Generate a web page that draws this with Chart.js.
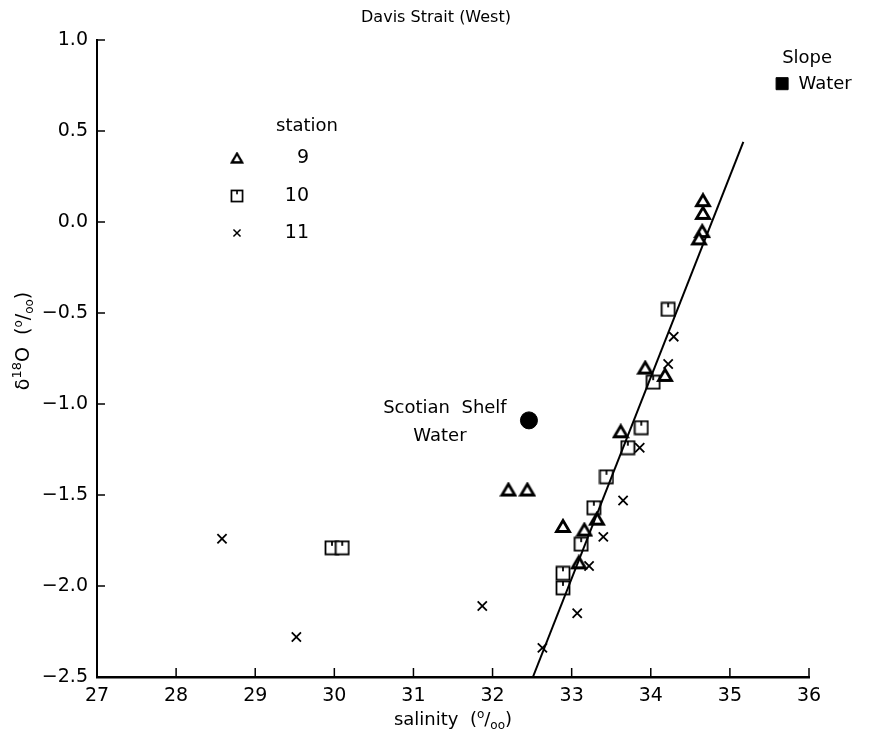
<!DOCTYPE html>
<html>
<head>
<meta charset="utf-8">
<script src="https://cdn.jsdelivr.net/npm/chart.js@4"></script>
<style>
  html, body { margin: 0; padding: 0; background: #fff; }
  canvas { display: block; }
</style>
</head>
<body>
<canvas id="c" width="872" height="740"></canvas>
<script>
// ---- data ----
const station9Salinity = [34.66, 34.66, 34.65, 34.61, 33.93, 34.18, 33.62, 32.20, 32.44, 33.32, 32.89, 33.16, 33.09];
const station9Delta    = [0.12, 0.05, -0.05, -0.09, -0.80, -0.84, -1.15, -1.47, -1.47, -1.63, -1.67, -1.69, -1.87];

const station10Salinity = [34.22, 34.03, 33.88, 33.71, 33.44, 33.28, 33.12, 32.89, 32.89, 29.97, 30.10];
const station10Delta    = [-0.48, -0.88, -1.13, -1.24, -1.40, -1.57, -1.77, -1.93, -2.01, -1.79, -1.79];

const station11Salinity = [34.29, 34.22, 33.86, 33.65, 33.40, 33.22, 33.07, 32.63, 31.87, 28.58, 29.52];
const station11Delta    = [-0.63, -0.78, -1.24, -1.53, -1.73, -1.89, -2.15, -2.34, -2.11, -1.74, -2.28];

const scotianShelf = [32.46, -1.09];
const slopeWater   = [35.66, 0.76];

const fitLineSalinity = [32.51, 35.17];
const fitLineDelta    = [-2.50, 0.44];

const xTickValues = [27, 28, 29, 30, 31, 32, 33, 34, 35, 36];
const yTickValues = [-2.5, -2.0, -1.5, -1.0, -0.5, 0.0, 0.5, 1.0];
const legendLabels = ['9', '10', '11'];
const chartTitle = 'Davis Strait (West)';

const zip = (xs, ys) => xs.map((x, i) => ({ x: x, y: ys[i] }));

// ---- marker images ----
function makeSquare() {
  const c = document.createElement('canvas'); c.width = 16; c.height = 16;
  const g = c.getContext('2d');
  g.fillStyle = '#fff'; g.fillRect(1.5, 1.5, 13, 13);
  g.strokeStyle = '#000'; g.lineWidth = 1.8;
  g.strokeRect(1.5, 1.5, 13, 13);
  g.beginPath(); g.moveTo(8, 1.5); g.lineTo(8, 6); g.stroke();
  return c;
}
function makeTriangle() {
  const c = document.createElement('canvas'); c.width = 18; c.height = 16;
  const g = c.getContext('2d');
  g.fillStyle = '#fff'; g.strokeStyle = '#000'; g.lineWidth = 2.8; g.lineJoin = 'miter';
  g.beginPath(); g.moveTo(9, 2.5); g.lineTo(15.5, 13.5); g.lineTo(2.5, 13.5); g.closePath();
  g.fill(); g.stroke();
  return c;
}
const squareImg = makeSquare();
const triangleImg = makeTriangle();

const FONT = "'DejaVu Sans', sans-serif";

// rich text: segments [text, size, baselineShift]
function richWidth(ctx, segs) {
  let w = 0;
  segs.forEach(s => { ctx.font = s[1] + 'px ' + FONT; w += ctx.measureText(s[0]).width; });
  return w;
}
function drawRich(ctx, segs, cx, cy) {
  const w = richWidth(ctx, segs);
  let x = cx - w / 2;
  ctx.textAlign = 'left';
  ctx.textBaseline = 'alphabetic';
  segs.forEach(s => {
    ctx.font = s[1] + 'px ' + FONT;
    ctx.fillText(s[0], x, cy + s[2]);
    x += ctx.measureText(s[0]).width;
  });
}

const decorPlugin = {
  id: 'decor',
  beforeDraw(chart) {
    const ctx = chart.ctx;
    ctx.save(); ctx.fillStyle = '#fff'; ctx.fillRect(0, 0, chart.width, chart.height); ctx.restore();
  },
  afterDraw(chart) {
    const ctx = chart.ctx;
    const xs = chart.scales.x, ys = chart.scales.y;
    ctx.save();
    ctx.strokeStyle = '#000';
    ctx.fillStyle = '#000';
    ctx.lineWidth = 1.5;
    // inward ticks
    xs.ticks.forEach((t, i) => {
      const px = xs.getPixelForTick(i);
      ctx.beginPath(); ctx.moveTo(px, ys.bottom); ctx.lineTo(px, ys.bottom - 9); ctx.stroke();
    });
    ys.ticks.forEach((t, i) => {
      const py = ys.getPixelForTick(i);
      ctx.beginPath(); ctx.moveTo(xs.left, py); ctx.lineTo(xs.left + 8, py); ctx.stroke();
    });

    // title
    ctx.font = '16px ' + FONT;
    ctx.textAlign = 'center';
    ctx.textBaseline = 'middle';
    ctx.fillText(chartTitle, 436, 18);

    // axis titles
    drawRich(ctx, [['salinity  (', 18, 0], ['o', 12, -7], ['/', 18, 0], ['oo', 12, 4], [')', 18, 0]], 453, 725);
    ctx.save();
    ctx.translate(29, 341);
    ctx.rotate(-Math.PI / 2);
    drawRich(ctx, [['δ', 19, 0], ['18', 13, -8], ['O  (', 19, 0], ['o', 12, -7], ['/', 19, 0], ['oo', 12, 4], [')', 19, 0]], 0, 0);
    ctx.restore();

    // legend
    ctx.font = '18px ' + FONT;
    ctx.textBaseline = 'middle';
    ctx.textAlign = 'center';
    ctx.fillText('station', 307, 126);
    const rows = [158, 196, 233];
    const symbols = [triangleImg, squareImg, null];
    rows.forEach((ry, i) => {
      if (symbols[i]) {
        const img = symbols[i];
        const s = i === 1 ? 0.85 : 0.8;
        ctx.drawImage(img, 237 - img.width * s / 2, ry - img.height * s / 2, img.width * s, img.height * s);
      } else {
        Chart.helpers.drawPoint(ctx, { pointStyle: 'crossRot', radius: 5, borderWidth: 1.7 }, 237, ry);
      }
      ctx.textAlign = 'right';
      ctx.textBaseline = 'middle';
      ctx.font = '19px ' + FONT;
      ctx.fillText(legendLabels[i], 309, ry);
    });

    // water-mass annotations
    ctx.font = '18px ' + FONT;
    ctx.textAlign = 'center';
    ctx.textBaseline = 'middle';
    const sx = xs.getPixelForValue(scotianShelf[0]), sy = ys.getPixelForValue(scotianShelf[1]);
    ctx.fillText('Scotian  Shelf', sx - 84, sy - 12);
    ctx.fillText('Water', sx - 89, sy + 16);
    const wx = xs.getPixelForValue(slopeWater[0]), wy = ys.getPixelForValue(slopeWater[1]);
    ctx.fillText('Slope', wx + 25, wy - 25);
    ctx.fillText('Water', wx + 43, wy + 1);
    ctx.restore();
  }
};

new Chart(document.getElementById('c'), {
  type: 'scatter',
  data: {
    datasets: [
      { label: 'fit', data: zip(fitLineSalinity, fitLineDelta), showLine: true,
        borderColor: '#000', borderWidth: 2, pointRadius: 0, fill: false },
      { label: '9', data: zip(station9Salinity, station9Delta), pointStyle: triangleImg,
        pointRadius: 7 },
      { label: '10', data: zip(station10Salinity, station10Delta), pointStyle: squareImg,
        pointRadius: 8 },
      { label: '11', data: zip(station11Salinity, station11Delta), pointStyle: 'crossRot',
        pointRadius: 6.5, borderColor: '#000', borderWidth: 1.8 },
      { label: 'Scotian Shelf Water', data: [{ x: scotianShelf[0], y: scotianShelf[1] }],
        pointStyle: 'circle', pointRadius: 8.5, backgroundColor: '#000', borderColor: '#000' },
      { label: 'Slope Water', data: [{ x: slopeWater[0], y: slopeWater[1] }],
        pointStyle: 'rect', pointRadius: 8.5, backgroundColor: '#000', borderColor: '#000' }
    ]
  },
  options: {
    responsive: false,
    animation: false,
    events: [],
    layout: { padding: { top: 40, right: 63, bottom: 0, left: 0 } },
    plugins: {
      legend: { display: false },
      tooltip: { enabled: false },
      title: { display: false }
    },
    scales: {
      x: {
        type: 'linear', min: 27, max: 36,
        afterBuildTicks: s => { s.ticks = xTickValues.map(v => ({ value: v })); },
        afterFit: s => { s.height = 63; },
        grid: { display: false, drawTicks: false },
        border: { display: true, color: '#000', width: 2.5 },
        ticks: { color: '#000', padding: 8, font: { family: FONT, size: 19 },
                 callback: v => String(v) },
        title: { display: false }
      },
      y: {
        type: 'linear', min: -2.5, max: 1.0,
        afterBuildTicks: s => { s.ticks = yTickValues.map(v => ({ value: v })); },
        afterFit: s => { s.width = 97; },
        grid: { display: false, drawTicks: false },
        border: { display: true, color: '#000', width: 2 },
        ticks: { color: '#000', padding: 9, font: { family: FONT, size: 19 },
                 callback: v => Number(v).toFixed(1).replace('-', '\u2212') },
        title: { display: false }
      }
    }
  },
  plugins: [decorPlugin]
});
</script>
</body>
</html>
